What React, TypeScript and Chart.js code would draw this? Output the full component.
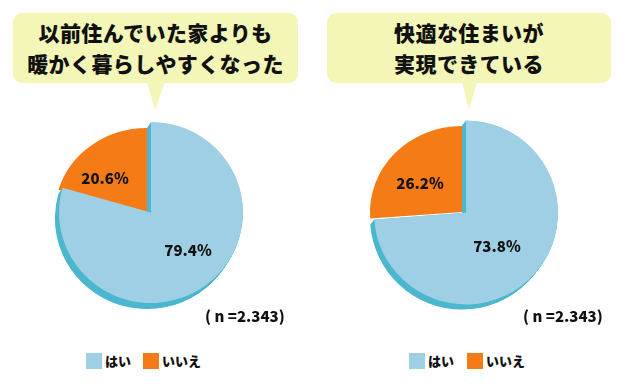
import React, { useEffect, useRef } from "react";
import { Chart, registerables } from "chart.js";

Chart.register(...registerables);

// ---------- data ----------
const categories = ["はい", "いいえ"];
const titleA = ["以前住んでいた家よりも", "暖かく暮らしやすくなった"];
const titleB = ["快適な住まいが", "実現できている"];
const valuesA = [79.4, 20.6];
const valuesB = [73.8, 26.2];
const sampleA = "( n =2.343)";
const sampleB = "( n =2.343)";

// ---------- style ----------
const BLUE = "#9ecfe4";
const ORANGE = "#f47b16";
const SHADOW = "#4ab7ce";
const BUBBLE = "#f3f6b6";
const INK = "#111111";
const JP = '"Noto Sans CJK JP", "Noto Sans", sans-serif';
const SIZE = 260;
const RADIUS = 92;
const DEG = Math.PI / 180;

type Slice = { dx: number; dy: number; ky: number; f: number; shift: number };
type PieGeom = { cx: number; cy: number; sweep: [number, number]; slices: Slice[] };

const GEOM_A: PieGeom = {
  cx: 147,
  cy: 213,
  sweep: [-4, 6],
  slices: [
    { dx: 4, dy: -0.5, ky: 0.984, f: 0.57, shift: -7.8 * DEG },
    { dx: 0, dy: 0, ky: 0.924, f: 0.623, shift: -10 * DEG },
  ],
};
const GEOM_B: PieGeom = {
  cx: 462,
  cy: 212,
  sweep: [-4, 5],
  slices: [
    { dx: 4, dy: 0.5, ky: 1.0, f: 0.488, shift: 3.6 * DEG },
    { dx: 0, dy: 0, ky: 0.935, f: 0.575, shift: -5.4 * DEG },
  ],
};

function makePlugin(geom: PieGeom, values: number[]) {
  return {
    id: "pie3d",
    beforeDatasetDraw(chart: any, args: any) {
      const ctx: CanvasRenderingContext2D = chart.ctx;
      const els = args.meta.data;
      const b = els[0];
      const sb = geom.slices[0];
      const p = b.getProps(["x", "y", "startAngle", "endAngle", "outerRadius"], true);
      ctx.save();
      ctx.fillStyle = SHADOW;
      const n = 14;
      for (let i = 1; i <= n; i++) {
        const t = i / n;
        ctx.save();
        ctx.translate(p.x + sb.dx + geom.sweep[0] * t, p.y + sb.dy + geom.sweep[1] * t);
        ctx.scale(1, sb.ky);
        ctx.beginPath();
        ctx.moveTo(0, 0);
        ctx.arc(0, 0, p.outerRadius, p.startAngle, p.endAngle);
        ctx.closePath();
        ctx.fill();
        ctx.restore();
      }
      for (const i of [1, 0]) {
        const el = els[i];
        const s = geom.slices[i];
        ctx.save();
        ctx.translate(el.x + s.dx, el.y + s.dy);
        ctx.scale(1, s.ky);
        ctx.translate(-el.x, -el.y);
        el.draw(ctx, chart.chartArea);
        ctx.restore();
      }
      ctx.restore();
      return false;
    },
    afterDatasetsDraw(chart: any) {
      const ctx: CanvasRenderingContext2D = chart.ctx;
      const els = chart.getDatasetMeta(0).data;
      ctx.save();
      ctx.fillStyle = INK;
      ctx.font = `900 15px ${JP}`;
      ctx.textAlign = "center";
      ctx.textBaseline = "middle";
      els.forEach((el: any, i: number) => {
        const s = geom.slices[i];
        const p = el.getProps(["x", "y", "startAngle", "endAngle", "outerRadius"], true);
        const mid = (p.startAngle + p.endAngle) / 2 + s.shift;
        const r = p.outerRadius * s.f;
        const x = p.x + s.dx + Math.cos(mid) * r;
        const y = p.y + s.dy + Math.sin(mid) * r * s.ky;
        ctx.fillText(`${values[i].toFixed(1)}%`, x, y + 1);
      });
      ctx.restore();
    },
  };
}

function PieChart({ geom, values }: { geom: PieGeom; values: number[] }) {
  const ref = useRef<HTMLCanvasElement>(null);
  useEffect(() => {
    const chart = new Chart(ref.current as HTMLCanvasElement, {
      type: "pie",
      data: {
        labels: categories,
        datasets: [
          {
            data: values,
            backgroundColor: [BLUE, ORANGE],
            borderWidth: 0,
          },
        ],
      },
      options: {
        responsive: false,
        animation: false,
        radius: RADIUS,
        layout: { padding: 0 },
        plugins: { legend: { display: false }, tooltip: { enabled: false } },
      } as any,
      plugins: [makePlugin(geom, values) as any],
    });
    return () => chart.destroy();
  }, []);
  return (
    <canvas
      ref={ref}
      width={SIZE}
      height={SIZE}
      style={{
        position: "absolute",
        left: geom.cx - SIZE / 2,
        top: geom.cy - SIZE / 2,
        width: SIZE,
        height: SIZE,
      }}
    />
  );
}

function Bubble({
  x,
  w,
  tip,
  lines,
}: {
  x: number;
  w: number;
  tip: [number, number, number];
  lines: string[];
}) {
  const cxText = x + w / 2;
  return (
    <>
      <svg
        width={625}
        height={388}
        style={{ position: "absolute", left: 0, top: 0 }}
      >
        <rect x={x} y={13} width={w} height={70} rx={9} ry={9} fill={BUBBLE} />
        <polygon points={`${tip[0]},82 ${tip[2]},82 ${tip[1]},110`} fill={BUBBLE} />
      </svg>
      {lines.map((t, i) => (
        <div
          key={i}
          style={{
            position: "absolute",
            left: cxText - 200,
            width: 400,
            top: 17 + i * 31,
            height: 31,
            lineHeight: "31px",
            textAlign: "center",
            font: `900 21px ${JP}`,
            letterSpacing: "0.4px",
            color: INK,
            whiteSpace: "nowrap",
          }}
        >
          {t}
        </div>
      ))}
    </>
  );
}

function Legend({ x1, x2 }: { x1: number; x2: number }) {
  const items = [
    { x: x1, c: BLUE, t: categories[0] },
    { x: x2, c: ORANGE, t: categories[1] },
  ];
  return (
    <>
      {items.map((it, i) => (
        <React.Fragment key={i}>
          <div
            style={{
              position: "absolute",
              left: it.x,
              top: 353,
              width: 16,
              height: 16,
              background: it.c,
            }}
          />
          <div
            style={{
              position: "absolute",
              left: it.x + 19,
              top: 351,
              height: 20,
              lineHeight: "20px",
              font: `900 13px ${JP}`,
              color: INK,
              whiteSpace: "nowrap",
            }}
          >
            {it.t}
          </div>
        </React.Fragment>
      ))}
    </>
  );
}

function Sample({ x, text }: { x: number; text: string }) {
  return (
    <div
      style={{
        position: "absolute",
        left: x,
        top: 305,
        height: 20,
        lineHeight: "20px",
        font: `900 15px ${JP}`,
        color: INK,
        whiteSpace: "pre",
      }}
    >
      {text}
    </div>
  );
}

export default function App() {
  return (
    <div
      style={{
        position: "absolute",
        left: 0,
        top: 0,
        width: 625,
        height: 388,
        background: "#ffffff",
        overflow: "hidden",
      }}
    >
      <Bubble x={13} w={285} tip={[147, 155, 165]} lines={titleA} />
      <Bubble x={327} w={284} tip={[462, 469, 477]} lines={titleB} />
      <PieChart geom={GEOM_A} values={valuesA} />
      <PieChart geom={GEOM_B} values={valuesB} />
      <Sample x={205} text={sampleA} />
      <Sample x={523} text={sampleB} />
      <Legend x1={86} x2={143} />
      <Legend x1={409} x2={467} />
    </div>
  );
}
